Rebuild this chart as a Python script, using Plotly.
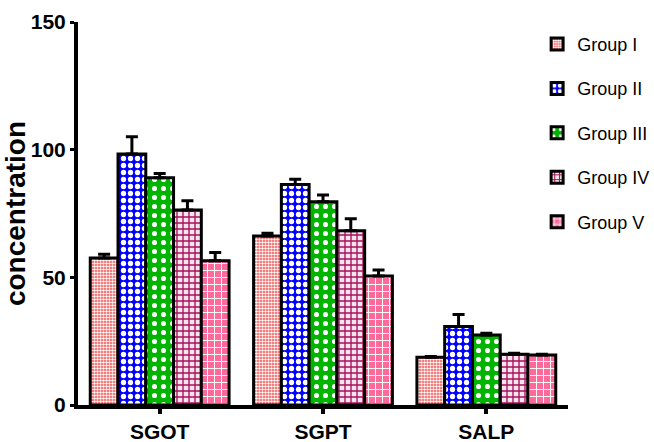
import plotly.graph_objects as go

categories = ["SGOT", "SGPT", "SALP"]
groups = ["Group I", "Group II", "Group III", "Group IV", "Group V"]

group_1 = [57.6, 66.2, 18.7]
group_2 = [98.3, 86.4, 30.7]
group_3 = [89.0, 79.6, 27.4]
group_4 = [76.4, 68.2, 19.9]
group_5 = [56.5, 50.5, 19.6]

err_1 = [1.4, 1.1, 0.3]
err_2 = [6.8, 2.0, 4.7]
err_3 = [1.7, 2.6, 0.7]
err_4 = [3.6, 4.7, 0.4]
err_5 = [3.2, 2.4, 0.3]

values = [group_1, group_2, group_3, group_4, group_5]
errors = [err_1, err_2, err_3, err_4, err_5]

patterns = [
    dict(shape=".", fgcolor="#ffffff", bgcolor="#f24a4a", size=3, solidity=0.55),
    dict(shape=".", fgcolor="#ffffff", bgcolor="#0000ff", size=7, solidity=0.45),
    dict(shape=".", fgcolor="#ffffff", bgcolor="#00b400", size=9, solidity=0.25),
    dict(shape="+", fgcolor="#a8105a", bgcolor="#f6e4ee", size=6, solidity=0.4),
    dict(shape="+", fgcolor="#ffffff", bgcolor="#ff6a9a", size=7, solidity=0.25),
]

fig = go.Figure()
for i, name in enumerate(groups):
    fig.add_trace(go.Bar(
        name=name,
        x=categories,
        y=values[i],
        legendgroup=name,
        marker=dict(
            color=patterns[i]["bgcolor"],
            line=dict(color="black", width=3),
            pattern=dict(fillmode="replace", **patterns[i]),
        ),
        error_y=dict(type="data", symmetric=False, array=errors[i],
                     arrayminus=[0, 0, 0], color="black", thickness=3, width=6),
    ))

tickfont = dict(family="Liberation Sans, Arial", size=21, color="black", weight="bold")

fig.update_layout(
    width=654, height=442,
    margin=dict(l=78, r=86, t=22, b=37, autoexpand=False),
    paper_bgcolor="white", plot_bgcolor="white",
    barmode="group", bargap=0.15, bargroupgap=0,
    showlegend=True,
    legend=dict(
        x=0.937, y=0.99, xanchor="left", yanchor="top",
        font=dict(family="Liberation Sans, Arial", size=18, color="black"),
        tracegroupgap=18, bgcolor="rgba(0,0,0,0)",
    ),
    xaxis=dict(
        range=[-0.5, 2.5], showline=True, linecolor="black", linewidth=4,
        ticks="outside", ticklen=5, tickwidth=4, tickcolor="black",
        tickfont=tickfont, showgrid=False, zeroline=False, automargin=False,
    ),
    yaxis=dict(
        range=[0, 150], dtick=50, showline=True, linecolor="black", linewidth=4,
        ticks="outside", ticklen=4, tickwidth=3, tickcolor="black",
        tickfont=tickfont, showgrid=False, zeroline=False, automargin=False,
        title=dict(text="concentration", standoff=6,
                   font=dict(family="Liberation Sans, Arial", size=28,
                             color="black", weight="bold")),
    ),
)

fig.write_html("out.html")
